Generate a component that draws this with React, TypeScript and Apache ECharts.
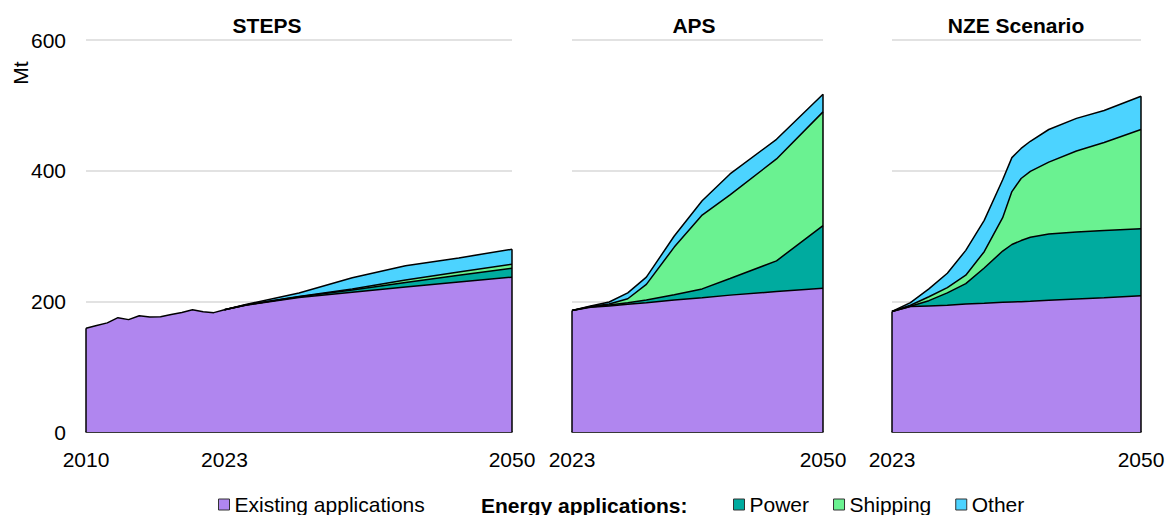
import React, { useEffect, useRef } from 'react';
import * as echarts from 'echarts';

// ---------- DATA ----------
const stepsYears = [2010, 2011, 2012, 2013, 2014, 2015, 2016, 2017, 2018, 2019, 2020, 2021, 2022, 2023, 2025, 2030, 2035, 2040, 2045, 2050];
const stepsExisting = [158.7, 163, 167, 175, 172, 178, 176, 176.5, 180, 183, 187, 184, 182.7, 187, 194, 206, 214, 222, 229.5, 237];
const stepsProjYears = [2023, 2025, 2030, 2035, 2040, 2045, 2050];
const stepsPower = [0, 0.5, 1, 3.5, 7, 10.5, 13.7];
const stepsShipping = [0, 0, 0.3, 1.5, 3.5, 5, 6];
const stepsOther = [0, 0.5, 5.5, 17, 22, 21.5, 23];

const apsYears = [2023, 2025, 2027, 2029, 2031, 2034, 2037, 2040, 2045, 2050];
const apsExisting = [186, 191, 193, 195.5, 198, 202, 205.5, 209.5, 215, 220];
const apsPower = [0, 0.5, 1.5, 2.5, 4, 8, 13.5, 25.5, 47, 96];
const apsShipping = [0, 0.5, 1.5, 6, 24, 73, 113, 128, 156, 174];
const apsOther = [0, 1, 3, 9, 11, 17, 22, 32, 30, 27];

const nzeYears = [2023, 2025, 2027, 2029, 2031, 2033, 2035, 2036, 2037, 2038, 2040, 2043, 2046, 2050];
const nzeExisting = [184.5, 192, 193, 194, 196, 197, 198.5, 199, 199.5, 200, 201.5, 203.5, 205.5, 208.5];
const nzePower = [0, 0.5, 8, 19, 31, 54, 78.5, 88, 93.5, 98, 101.5, 102.5, 103, 102.5];
const nzeShipping = [0, 1.5, 6, 8, 13, 25, 51, 81, 95, 101, 110, 124, 134.5, 152];
const nzeOther = [0, 4, 12, 22, 38, 48, 58, 52, 46, 46, 50, 50, 49, 51];

const panelTitles = ['STEPS', 'APS', 'NZE Scenario'];
const xLabelYears = [[2010, 2023, 2050], [2023, 2050], [2023, 2050]];
const yTicks = { min: 0, max: 600, interval: 200 };
const seriesNames = ['Existing applications', 'Power', 'Shipping', 'Other'];
const legendTitle = 'Energy applications:';
const unitLabel = 'Mt';

// ---------- STYLE ----------
const COLORS: Record<string, string> = {
  'Existing applications': '#b086ef',
  Power: '#00ab9f',
  Shipping: '#6af291',
  Other: '#4cd3ff',
};
const FONT = 'Arial, "Liberation Sans", sans-serif';
const FS = 21;

function buildPanel(
  g: number,
  exYears: number[],
  existing: number[],
  projYears: number[],
  power: number[],
  shipping: number[],
  other: number[]
) {
  const exAt = (y: number) => existing[exYears.indexOf(y)];
  const cumPower = projYears.map((y, i) => exAt(y) + power[i]);
  const cumShip = cumPower.map((v, i) => v + shipping[i]);
  const cumOther = cumShip.map((v, i) => v + other[i]);
  const base = (name: string, years: number[], vals: number[]) => ({
    type: 'line',
    name,
    xAxisIndex: g,
    yAxisIndex: g,
    data: years.map((y, i) => [y, vals[i]]),
    showSymbol: false,
    symbol: 'none',
    lineStyle: { color: '#000', width: 1.5 },
    areaStyle: { color: COLORS[name], opacity: 1 },
    itemStyle: { color: COLORS[name] },
    emphasis: { disabled: true },
    silent: true,
  });
  const firstYear = exYears[0];
  const lastYear = projYears[projYears.length - 1];
  const firstTotal = existing[0];
  const lastTotal = cumOther[cumOther.length - 1];
  const ex: any = base('Existing applications', exYears, existing);
  ex.markLine = {
    silent: true,
    symbol: 'none',
    label: { show: false },
    lineStyle: { color: '#000', width: 1.5, type: 'solid' },
    emphasis: { disabled: true },
    data: [
      [{ coord: [firstYear, 0] }, { coord: [firstYear, firstTotal] }],
      [{ coord: [lastYear, 0] }, { coord: [lastYear, lastTotal] }],
    ],
  };
  return [
    base('Other', projYears, cumOther),
    base('Shipping', projYears, cumShip),
    base('Power', projYears, cumPower),
    ex,
  ];
}

export default function App() {
  const ref = useRef<HTMLDivElement>(null);
  useEffect(() => {
    if (!ref.current) return;
    const chart = echarts.init(ref.current, undefined, { renderer: 'svg' });
    const grids = [
      { left: 86, top: 40, width: 426, height: 392 },
      { left: 572, top: 40, width: 251, height: 392 },
      { left: 892, top: 40, width: 249, height: 392 },
    ];
    const ranges = [
      [stepsYears[0], stepsProjYears[stepsProjYears.length - 1]],
      [apsYears[0], apsYears[apsYears.length - 1]],
      [nzeYears[0], nzeYears[nzeYears.length - 1]],
    ];
    const xAxis = grids.map((_, i) => ({
      type: 'value',
      gridIndex: i,
      min: ranges[i][0],
      max: ranges[i][1],
      interval: 1,
      axisLine: { show: true, onZero: false, lineStyle: { color: '#000', width: 1.5 } },
      axisTick: { show: false },
      splitLine: { show: false },
      axisLabel: {
        fontSize: FS,
        fontFamily: FONT,
        color: '#000',
        margin: 17,
        showMinLabel: true,
        showMaxLabel: true,
        formatter: (v: number) => (xLabelYears[i].includes(v) ? String(v) : ''),
      },
    }));
    const yAxis = grids.map((_, i) => ({
      type: 'value',
      gridIndex: i,
      min: yTicks.min,
      max: yTicks.max,
      interval: yTicks.interval,
      axisLine: { show: false },
      axisTick: { show: false },
      splitLine: { show: true, lineStyle: { color: '#d9d9d9', width: 1.5 } },
      axisLabel: {
        show: i === 0,
        fontSize: FS,
        fontFamily: FONT,
        color: '#000',
        margin: 20,
      },
    }));
    const series = [
      ...buildPanel(0, stepsYears, stepsExisting, stepsProjYears, stepsPower, stepsShipping, stepsOther),
      ...buildPanel(1, apsYears, apsExisting, apsYears, apsPower, apsShipping, apsOther),
      ...buildPanel(2, nzeYears, nzeExisting, nzeYears, nzePower, nzeShipping, nzeOther),
    ];
    const titleX = [267, 694, 1016];
    const legendItem = (name: string) => ({
      name,
      icon: 'rect',
      itemStyle: { color: COLORS[name], borderColor: '#333', borderWidth: 1 },
    });
    const legendText = { fontSize: FS, fontFamily: FONT, color: '#000' };
    chart.setOption({
      animation: false,
      grid: grids,
      xAxis,
      yAxis,
      series,
      legend: [
        {
          left: 218,
          top: 494,
          itemWidth: 11,
          itemHeight: 11,
          itemGap: 24,
          padding: 0,
          selectedMode: false,
          textStyle: legendText,
          data: [legendItem(seriesNames[0])],
        },
        {
          left: 733,
          top: 494,
          itemWidth: 11,
          itemHeight: 11,
          itemGap: 24,
          padding: 0,
          selectedMode: false,
          textStyle: legendText,
          data: seriesNames.slice(1).map(legendItem),
        },
      ],
      graphic: [
        ...panelTitles.map((t, i) => ({
          type: 'text',
          x: titleX[i],
          y: 25,
          silent: true,
          style: {
            text: t,
            fill: '#000',
            font: `bold ${FS}px ${FONT}`,
            textAlign: 'center',
            textVerticalAlign: 'middle',
          },
        })),
        {
          type: 'text',
          x: 481,
          y: 505,
          silent: true,
          style: {
            text: legendTitle,
            fill: '#000',
            font: `bold ${FS}px ${FONT}`,
            textAlign: 'left',
            textVerticalAlign: 'middle',
          },
        },
        {
          type: 'text',
          x: 20,
          y: 73,
          rotation: Math.PI / 2,
          silent: true,
          style: {
            text: unitLabel,
            fill: '#000',
            font: `${FS}px ${FONT}`,
            textAlign: 'center',
            textVerticalAlign: 'middle',
          },
        },
      ],
    });
    return () => chart.dispose();
  }, []);
  return (
    <div
      ref={ref}
      style={{ position: 'fixed', left: 0, top: 0, width: 1172, height: 515, background: '#fff' }}
    />
  );
}
